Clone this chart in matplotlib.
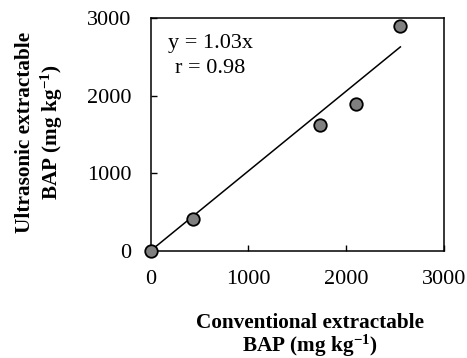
# BAP: ultrasonic vs conventional extraction, with fitted line through origin

import matplotlib
matplotlib.use('Agg')
import matplotlib.pyplot as plt
import numpy as np

conventional = [0, 433, 1735, 2097, 2547]
ultrasonic = [0, 409, 1627, 1898, 2906]
slope = 1.03
r_value = 0.98
fit_x = [0, 2554]
ticks = [0, 1000, 2000, 3000]

plt.rcParams['font.family'] = 'Liberation Serif'
plt.rcParams['mathtext.fontset'] = 'custom'
plt.rcParams['mathtext.rm'] = 'Liberation Serif'
plt.rcParams['mathtext.default'] = 'regular'

fig = plt.figure(figsize=(4.67, 3.58), dpi=100)
ax = fig.add_axes([0.3227, 0.2997, 0.628, 0.6492])

fit_y = [slope * v for v in fit_x]
ax.plot(fit_x, fit_y, color='black', lw=1.1, zorder=2)
ax.plot(conventional, ultrasonic, 'o', ms=9, mfc='#808080', mec='black',
        mew=1.3, clip_on=False, zorder=3)

ax.set_xlim(0, 3000)
ax.set_ylim(0, 3000)
ax.set_xticks(ticks)
ax.set_yticks(ticks)
ax.tick_params(direction='in', length=4.5, width=1.0, labelsize=16)
ax.tick_params(axis='x', pad=14)
ax.tick_params(axis='y', pad=14)
for s in ax.spines.values():
    s.set_linewidth(1.1)

ax.text(180, 2677, 'y = %.2fx' % slope, fontsize=16, va='center', ha='left')
ax.text(250, 2355, 'r = %.2f' % r_value, fontsize=16, va='center', ha='left')

fig.text(310 / 467, 1 - 336 / 358, 'Conventional extractable\nBAP (mg kg$^{-1}$)',
         fontsize=15.3, fontweight='bold', ha='center', va='center', linespacing=0.95)
fig.text(40 / 467, 1 - 132 / 358, 'Ultrasonic extractable\nBAP (mg kg$^{-1}$)',
         fontsize=15.3, fontweight='bold', ha='center', va='center', rotation=90,
         linespacing=1.2)

fig.savefig('out.png', dpi=100)
